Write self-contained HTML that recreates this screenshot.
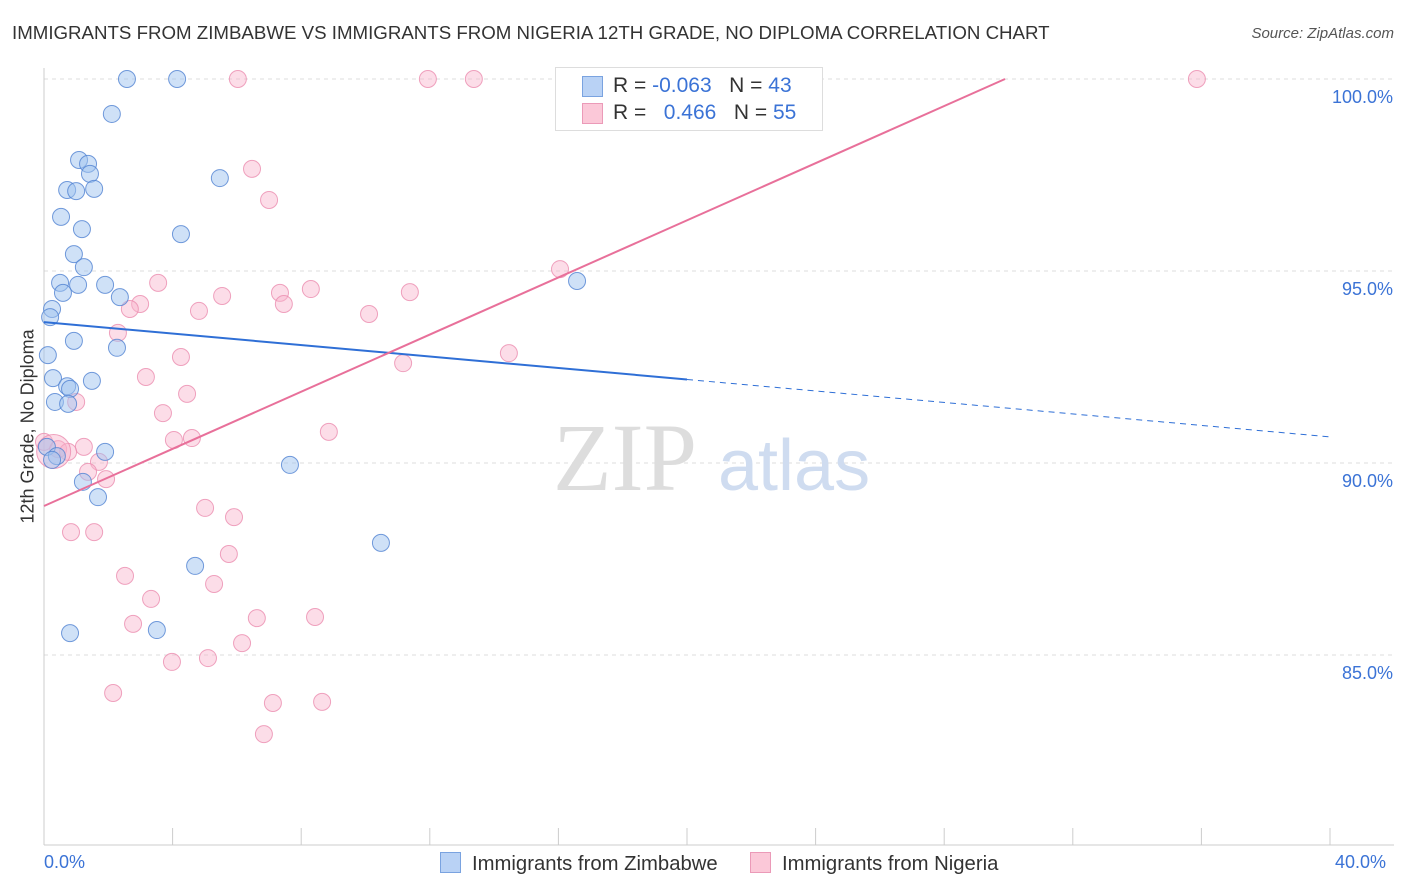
<!DOCTYPE html>
<html><head><meta charset="utf-8"><style>
body{margin:0;background:#fff;font-family:"Liberation Sans",sans-serif;}
#wrap{position:relative;width:1406px;height:892px;overflow:hidden;}
.t{position:absolute;white-space:nowrap;}
</style></head><body><div id="wrap">
<div class="t" style="left:12px;top:22px;font-size:18.7px;color:#333">IMMIGRANTS FROM ZIMBABWE VS IMMIGRANTS FROM NIGERIA 12TH GRADE, NO DIPLOMA CORRELATION CHART</div>
<div class="t" style="right:12px;top:25px;font-size:15px;color:#555;font-style:italic">Source: ZipAtlas.com</div>
<svg id="svg" width="1406" height="892" style="position:absolute;left:0;top:0"></svg>
</div>
<script>
const zimX=[2.58,4.14,2.11,1.09,1.37,1.43,0.72,1.00,1.56,5.47,0.53,1.18,4.26,0.93,1.24,0.50,1.06,1.90,0.59,2.36,16.58,0.25,0.19,0.93,2.27,0.12,0.28,0.72,0.81,1.49,0.34,0.75,0.09,1.90,0.40,0.25,7.65,1.21,1.68,10.48,4.70,0.81,3.51];
const zimY=[100,100,99.09,97.89,97.79,97.53,97.11,97.08,97.14,97.42,96.41,96.09,95.96,95.44,95.10,94.69,94.64,94.64,94.43,94.32,94.74,94.01,93.80,93.18,93.0,92.81,92.21,92.0,91.93,92.14,91.59,91.54,90.42,90.29,90.18,90.08,89.95,89.51,89.11,87.92,87.32,85.57,85.65];
const nigX=[6.03,11.94,13.37,35.86,16.61,6.47,7.00,3.55,7.34,8.30,11.38,5.54,2.99,4.82,7.46,2.67,10.11,2.30,16.05,14.46,4.26,11.17,3.17,4.45,1.00,3.70,8.86,4.60,4.04,0,1.24,0.44,0.75,1.71,1.37,1.93,5.01,5.91,0.84,1.56,5.75,2.52,5.29,3.33,6.62,8.43,2.77,6.16,3.98,5.10,2.15,7.12,8.65,6.84,0.3];
const nigY=[100,100,100,100,100,97.66,96.85,94.69,94.43,94.53,94.45,94.35,94.14,93.96,94.14,94.01,93.88,93.39,95.05,92.86,92.76,92.60,92.24,91.80,91.59,91.30,90.81,90.65,90.60,90.55,90.42,90.36,90.29,90.03,89.77,89.58,88.83,88.59,88.20,88.20,87.63,87.06,86.85,86.46,85.96,85.99,85.81,85.31,84.82,84.92,84.01,83.75,83.78,82.94,90.3];
const yTicks=[100,95,90,85];
const yTickLabels=["100.0%","95.0%","90.0%","85.0%"];
const zimTrend=[93.67,90.68];
const nigTrend=[88.88,0.372];
const sx=v=>44+v/40*1286, sy=v=>79+(100-v)*38.4;
const svg=document.getElementById('svg'), NS='http://www.w3.org/2000/svg';
function mk(tag,a,name){const e=document.createElementNS(NS,tag);for(const k in a)e.setAttribute(k,a[k]);


svg.appendChild(e);return e;}
yTicks.forEach((v,i)=>{mk('line',{x1:44,x2:1394,y1:sy(v),y2:sy(v),stroke:'#ddd','stroke-dasharray':'4,4'},'gridline');
const t=mk('text',{x:1393,y:sy(v)+24,'text-anchor':'end','font-size':18,fill:'#3b73d6','font-family':'Liberation Sans'},'y-tick-label');t.textContent=yTickLabels[i];});
mk('line',{x1:44,x2:44,y1:68,y2:845,stroke:'#ccc'},'y-axis');
mk('line',{x1:44,x2:1394,y1:845,y2:845,stroke:'#ccc'},'x-axis');
for(let i=0;i<=10;i++)mk('line',{x1:sx(i*4),x2:sx(i*4),y1:828,y2:845,stroke:'#ccc'},'x-tick');
const wm=mk('text',{x:553,y:490,'font-size':96,fill:'#ddd','font-family':'Liberation Serif'},'watermark-zip');wm.textContent='ZIP';
const wm2=mk('text',{x:718,y:490,'font-size':72,fill:'#cfdcf0','font-family':'Liberation Sans'},'watermark-atlas');wm2.textContent='atlas';
nigX.forEach((x,i)=>mk('circle',{cx:sx(x),cy:sy(nigY[i]),r:i==54?17:8.5,fill:'rgba(248,180,205,0.45)',stroke:'rgba(235,140,175,0.8)','stroke-width':1},'nigeria-point'));
zimX.forEach((x,i)=>mk('circle',{cx:sx(x),cy:sy(zimY[i]),r:8.5,fill:'rgba(160,195,240,0.5)',stroke:'rgba(80,130,210,0.8)','stroke-width':1},'zimbabwe-point'));
const zy=x=>zimTrend[0]+(zimTrend[1]-zimTrend[0])*x/40;
mk('line',{x1:sx(0),y1:sy(zy(0)),x2:sx(20),y2:sy(zy(20)),stroke:'#2f6fd6','stroke-width':2},'zimbabwe-trendline');
mk('line',{x1:sx(20),y1:sy(zy(20)),x2:sx(40),y2:sy(zy(40)),stroke:'#2f6fd6','stroke-width':1,'stroke-dasharray':'6,5'},'zimbabwe-trendline-extension');
const xe=(100-nigTrend[0])/nigTrend[1];
mk('line',{x1:sx(0),y1:sy(nigTrend[0]),x2:sx(xe),y2:sy(100),stroke:'#e8709a','stroke-width':2},'nigeria-trendline');
</script>
<div class="t" style="left:555px;top:67px;width:266px;height:62px;border:1px solid #ddd;background:#fff">
<div style="position:absolute;left:26px;top:8px;width:19px;height:19px;background:#b9d2f5;border:1px solid #7aa3e0"></div>
<div style="position:absolute;left:26px;top:35px;width:19px;height:19px;background:#fbc8d8;border:1px solid #eb9ab8"></div>
<div style="position:absolute;left:57px;top:6px;font-size:21px;color:#333">R = <span style="color:#3b73d6">-0.063</span>&nbsp;&nbsp;&nbsp;N = <span style="color:#3b73d6">43</span></div>
<div style="position:absolute;left:57px;top:33px;font-size:21px;color:#333">R = &nbsp;&nbsp;<span style="color:#3b73d6">0.466</span>&nbsp;&nbsp;&nbsp;N = <span style="color:#3b73d6">55</span></div>
</div>
<div class="t" style="left:44px;top:852px;font-size:18px;color:#3b73d6">0.0%</div>
<div class="t" style="left:1335px;top:852px;font-size:18px;color:#3b73d6">40.0%</div>
<div class="t" style="left:440px;top:852px;font-size:20.3px;color:#333"><span style="display:inline-block;width:19px;height:19px;background:#b9d2f5;border:1px solid #7aa3e0;vertical-align:-3px;margin-right:11px"></span>Immigrants from Zimbabwe</div>
<div class="t" style="left:750px;top:852px;font-size:20.3px;color:#333"><span style="display:inline-block;width:19px;height:19px;background:#fbc8d8;border:1px solid #eb9ab8;vertical-align:-3px;margin-right:11px"></span>Immigrants from Nigeria</div>
<div class="t" style="left:-42px;top:443px;font-size:18px;color:#333;transform:rotate(-90deg);width:140px;text-align:center">12th Grade, No Diploma</div>
</body></html>
